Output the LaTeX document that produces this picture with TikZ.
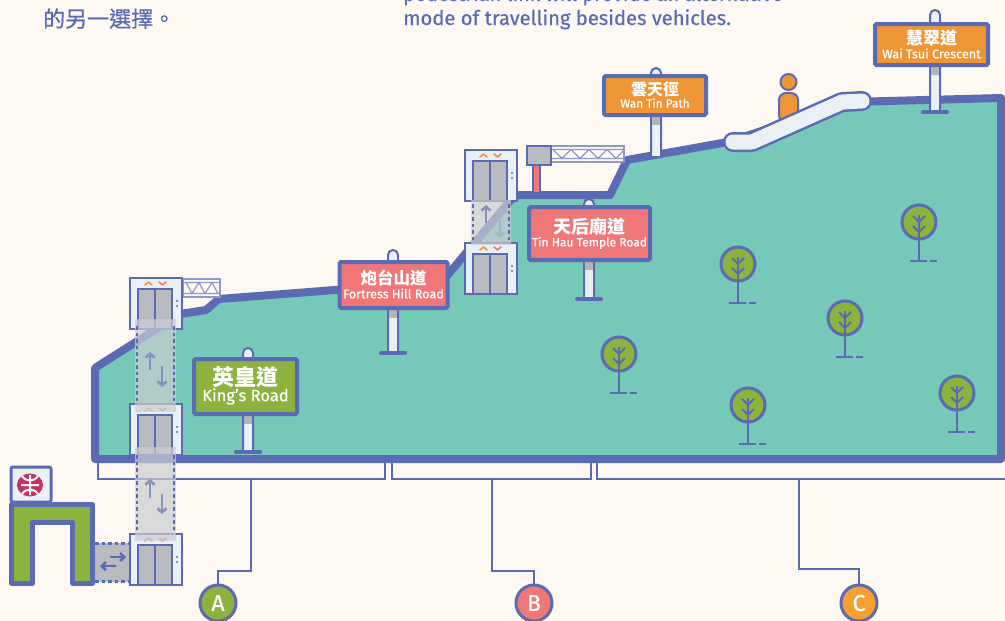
\documentclass[tikz,border=0pt]{standalone}
\usepackage{fontspec}
\setmainfont{Fira Sans}[FakeBold=0.5]
\newfontfamily\cjk{Noto Sans CJK TC}
\newfontfamily\cjkmed{Noto Sans CJK TC}[FakeBold=0.6]
\usetikzlibrary{arrows.meta,calc}

\definecolor{bg}{HTML}{FDF8F2}
\definecolor{ink}{HTML}{5B6BB3}
\definecolor{hill}{HTML}{76C8B9}
\definecolor{leaf}{HTML}{8BB33D}
\definecolor{rose}{HTML}{F07777}
\definecolor{amber}{HTML}{EE9636}
\definecolor{amberC}{HTML}{F6A030}
\definecolor{panel}{HTML}{E9F1F6}
\definecolor{door}{HTML}{B8BBC0}
\definecolor{shaft}{HTML}{CBCDD0}
\definecolor{postgrey}{HTML}{B3B5B8}
\definecolor{truss}{HTML}{8F99C9}
\definecolor{arrowc}{HTML}{8790C0}
\definecolor{mtrred}{HTML}{C8325E}

% a sign pole: x, knob top, foot, lower edge of the board
\newcommand\signpole[4]{%
  \draw[ink, line width=2, fill=panel] (#1-5,#3) -- (#1-5,#2+5)
    arc[start angle=180, end angle=360, radius=5] -- (#1+5,#3) -- cycle;
  \fill[postgrey] (#1-4,#4) rectangle (#1+4,#4+8);
}

\tikzset{
  signbox/.style={draw=ink, line width=4, rounded corners=1.5, inner sep=0},
  signzh/.style={text=white, inner sep=0},
  signen/.style={text=white, inner sep=0},
  toptext/.style={text=ink, inner sep=0},
  badge/.style={circle, draw=ink, line width=3, minimum size=36, inner sep=0,
    text=white, font=\fontsize{23}{23}\selectfont},
  link/.style={ink, line width=2},
  shaftside/.style={ink, line width=2.5, dash pattern=on 3.5pt off 3pt},
  shaftarrow/.style={arrowc, line width=2.5, -{Straight Barb[length=4pt,width=9pt]}},
  trussline/.style={truss, line width=1.2},
  liftcar/.pic={
    \draw[ink, line width=2, fill=panel] (0,0) rectangle (52,51);
    \draw[ink, line width=2, fill=door] (8,11) rectangle (42,51);
    \draw[ink, line width=1.5] (25,11) -- (25,51);
    \draw[amber, line width=1.6, line cap=round, line join=round] (15,7) -- (18.5,4) -- (22,7);
    \draw[rose, line width=1.6, line cap=round, line join=round] (29,4) -- (32.5,7) -- (36,4);
    \fill[ink] (47,23) circle (1.1) (47,28) circle (1.1);
  },
  treeicon/.pic={
    \draw[ink, line width=3, fill=leaf] (0,0) circle (17);
    \draw[ink, line width=2.5] (0,-7) -- (0,39);
    \draw[ink, line width=2] (-6,-6) -- (0,0) -- (6,-6) (-6,4) -- (0,10) -- (6,4);
    \draw[ink, line width=2.5] (-9,39) -- (8,39) (11,39) -- (18,39);
  }
}

\begin{document}
\begin{tikzpicture}[x=1pt, y=-1pt]
\fill[bg] (0,0) rectangle (1005,621);
\useasboundingbox (0,0) rectangle (1005,621);

% introductory text
\node[toptext, anchor=base west, font=\cjkmed\fontsize{22}{26}\selectfont] (introzh) at (43,27) {的另一選擇。};
\node[toptext, anchor=base west, font=\fontsize{20}{24}\selectfont] (introen1) at (403,1) {pedestrian link will provide an alternative};
\node[toptext, anchor=base west, font=\fontsize{20.2}{24}\selectfont] (introen2) at (403,25) {mode of travelling besides vehicles.};

% section brackets under the hillside
\draw[ink, line width=2, fill=bg] (98,455) rectangle (385,479);
\draw[ink, line width=2, fill=bg] (392,455) rectangle (591,479);
\draw[ink, line width=2, fill=bg] (597,455) rectangle (1010,479);
\coordinate (footA) at (251,479);
\coordinate (footB) at (492,479);
\coordinate (footC) at (799,479);

% section badges
\node[badge, fill=leaf] (A) at (218,603) {A};
\node[badge, fill=rose] (B) at (534,603) {B};
\node[badge, fill=amberC] (C) at (859,603) {C};
\draw[link] (footA) -- ++(0,92) -| (A);
\draw[link] (footB) -- ++(0,92) -| (B);
\draw[link] (footC) -- ++(0,90) -| (C);

% MTR station entrance
\draw[ink, line width=3, fill=panel, rounded corners=2] (11,467) rectangle (51,502);
\fill[mtrred] (30,485) ellipse[x radius=13, y radius=11.5];
\draw[white, line width=2] (30,475) -- (30,495) (21,485) -- (39,485)
  (22,476) .. controls (26,482) and (34,482) .. (38,476)
  (22,494) .. controls (26,488) and (34,488) .. (38,494);
\draw[ink, line width=5, fill=leaf, line join=round]
  (11.5,583) -- (11.5,504.5) -- (92.5,504.5) -- (92.5,583) -- (72.5,583)
  -- (72.5,522.5) -- (32.5,522.5) -- (32.5,583) -- cycle;

% walkway to the lift
\fill[door] (95,543) rectangle (131,582);
\draw[shaftside, line width=3] (95,543.5) -- (131,543.5) (95,581.5) -- (131,581.5);
\draw[ink, line width=2.5, -{Straight Barb[length=4pt,width=8pt]}] (110,557) -- (126,557);
\draw[ink, line width=2.5, -{Straight Barb[length=4pt,width=8pt]}] (116,566) -- (100,566);

% hillside
\draw[ink, line width=8, fill=hill, line join=round]
  (95,459) -- (95,368) -- (180,314) -- (206,310) -- (219,299) -- (335,290)
  -- (440,284) -- (515,195) -- (610,195) -- (627,160) -- (728,142)
  -- (850,102) -- (1001,98) -- (1001,459) -- cycle;

% trees
\pic at (919,222) {treeicon};
\pic at (738,264) {treeicon};
\pic at (845,318) {treeicon};
\pic at (619,354) {treeicon};
\pic at (748,405) {treeicon};
\pic at (957,393) {treeicon};

% footbridge trusses
\draw[trussline, fill=bg] (183,279) rectangle (220,297);
\draw[trussline] (183,282.5) -- (220,282.5) (183,293.5) -- (220,293.5)
  (186,282.5) -- (192,293.5) -- (199,282.5) -- (205,293.5) -- (212,282.5) -- (218,293.5);
\draw[trussline, fill=bg] (551,146) rectangle (624,162);
\draw[trussline] (551,149.5) -- (624,149.5) (551,158.5) -- (624,158.5)
  (553,149.5) -- (562,158.5) -- (571,149.5) -- (580,158.5) -- (589,149.5)
  -- (598,158.5) -- (607,149.5) -- (616,158.5) -- (624,150);
\draw[ink, line width=2, fill=door] (527,146) rectangle (551,165);
\draw[ink, line width=2, fill=rose] (533,165) rectangle (540,193);

% street signs
\signpole{248}{348}{452}{416}
\draw[ink, line width=4, line cap=round] (236,452) -- (260,452);
\node[signbox, fill=leaf, minimum width=103, minimum height=55] (kings) at (245.5,386.5) {};
\node[signzh, font=\cjk\bfseries\fontsize{22}{22}\selectfont] (kingszh) at ($(kings.center)+(0,-9.5)$) {英皇道};
\node[signen, font=\fontsize{16.5}{17}\selectfont] (kingsen) at ($(kings.center)+(0,10)$) {King’s Road};

\signpole{393}{250}{353}{310}
\draw[ink, line width=4, line cap=round] (381,353) -- (405,353);
\node[signbox, fill=rose, minimum width=108, minimum height=46] (fortress) at (393.5,285) {};
\node[signzh, font=\cjk\bfseries\fontsize{16.5}{16.5}\selectfont] (fortresszh) at ($(fortress.center)+(0,-6.5)$) {炮台山道};
\node[signen, font=\fontsize{12.6}{13}\selectfont] (fortressen) at ($(fortress.center)+(0,8.5)$) {Fortress Hill Road};

\signpole{589}{199}{299}{262}
\draw[ink, line width=4, line cap=round] (577,299) -- (601,299);
\node[signbox, fill=rose, minimum width=121, minimum height=53] (tinhau) at (589.5,233.5) {};
\node[signzh, font=\cjk\bfseries\fontsize{18}{18}\selectfont] (tinhauzh) at ($(tinhau.center)+(0,-7)$) {天后廟道};
\node[signen, font=\fontsize{12}{12.2}\selectfont] (tinhauen) at ($(tinhau.center)+(0,9.5)$) {Tin Hau Temple Road};

\signpole{656}{68}{157}{117}
\node[signbox, fill=amber, minimum width=102, minimum height=39] (wantin) at (655,95.5) {};
\node[signzh, font=\cjk\bfseries\fontsize{16}{16}\selectfont] (wantinzh) at ($(wantin.center)+(0,-6.5)$) {雲天徑};
\node[signen, font=\fontsize{11.8}{11.8}\selectfont] (wantinen) at ($(wantin.center)+(0,7.5)$) {Wan Tin Path};

\signpole{935}{10}{112}{67}
\draw[ink, line width=4, line cap=round] (923,112) -- (947,112);
\node[signbox, fill=amber, minimum width=113, minimum height=41] (waitsui) at (931.5,44.5) {};
\node[signzh, font=\cjk\bfseries\fontsize{17}{17}\selectfont] (waitsuizh) at ($(waitsui.center)+(0,-6)$) {慧翠道};
\node[signen, font=\fontsize{12.6}{13}\selectfont] (waitsuien) at ($(waitsui.center)+(0,9)$) {Wai Tsui Crescent};

% escalator with a rider
\draw[ink, line width=2, fill=amber, rounded corners=7] (779,93) rectangle (798,122);
\draw[ink, line width=2, fill=amber] (788.5,82) circle (8);
\draw[ink, line width=20, line cap=round, line join=round] (733,142) -- (752,142) -- (842,102) -- (862,101);
\draw[panel, line width=15, line cap=round, line join=round] (733,142) -- (752,142) -- (842,102) -- (862,101);

% lifts
\pic at (130,278) {liftcar};
\pic at (130,404) {liftcar};
\pic at (130,534) {liftcar};
\pic at (465,150) {liftcar};
\pic at (465,243) {liftcar};

% lift shafts
\fill[shaft, opacity=.7] (135,319) rectangle (176,412);
\draw[shaftside] (137,326) -- (137,404) (174,326) -- (174,404);
\draw[shaftarrow] (150,370) -- (150,352);
\draw[shaftarrow] (162,366) -- (162,387);

\fill[shaft, opacity=.7] (135,447) rectangle (176,541);
\draw[shaftside] (137,455) -- (137,533) (174,455) -- (174,533);
\draw[shaftarrow] (150,498) -- (150,479);
\draw[shaftarrow] (162,494) -- (162,514);

\fill[shaft, opacity=.7] (471,200) rectangle (511,245);
\draw[shaftside] (473,204) -- (473,243) (509,204) -- (509,243);
\draw[shaftarrow] (486,223) -- (486,205);
\draw[shaftarrow, opacity=.35] (500,220) -- (500,238);
\end{tikzpicture}
\end{document}
